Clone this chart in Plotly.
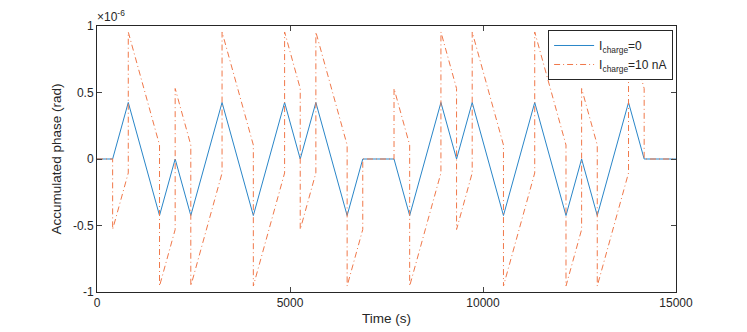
import plotly.graph_objects as go

# Accumulated phase, in units of 1e-6 rad
time_zero = [0, 405, 810, 1620, 2025, 2430, 3240, 4050, 4860, 5265, 5670, 6480, 6885,
             7695, 8100, 8910, 9315, 9720, 10530, 11340, 12150, 12555, 12960, 13770, 14175, 15000]
phase_zero = [0, 0, 0.425, -0.425, 0, -0.425, 0.425, -0.425, 0.425, 0, 0.425, -0.425, 0,
              0, -0.425, 0.425, 0, 0.425, -0.425, 0.425, -0.425, 0, -0.425, 0.425, 0, 0]

time_10nA = [0, 405, 405, 810, 810, 1620, 1620, 2025, 2025, 2430, 2430, 3240, 3240, 4050, 4050,
             4860, 4860, 5265, 5265, 5670, 5670, 6480, 6480, 6885, 6885, 7695, 7695, 8100, 8100,
             8910, 8910, 9315, 9315, 9720, 9720, 10530, 10530, 11340, 11340, 12150, 12150,
             12555, 12555, 12960, 12960, 13770, 13770, 14175, 14175, 15000]
phase_10nA = [0, 0, -0.53, -0.105, 0.955, 0.105, -0.955, -0.53, 0.53, 0.105, -0.955, -0.105, 0.955,
              0.105, -0.955, -0.105, 0.955, 0.53, -0.53, -0.105, 0.955, 0.105, -0.955, -0.53, 0,
              0, 0.53, 0.105, -0.955, -0.105, 0.955, 0.53, -0.53, -0.105, 0.955, 0.105, -0.955,
              -0.105, 0.955, 0.105, -0.955, -0.53, 0.53, 0.105, -0.955, -0.105, 0.955, 0.53, 0, 0]

y_ticks = [-1, -0.5, 0, 0.5, 1]
y_tick_text = ['-1', '-0.5', '0', '0.5', '1']
x_ticks = [0, 5000, 10000, 15000]
x_tick_text = ['0', '5000', '10000', '15000']

font = 'Liberation Sans, Arial, sans-serif'
axcol = '#262626'

fig = go.Figure()
fig.add_trace(go.Scatter(x=time_zero, y=phase_zero, mode='lines',
                         line=dict(color='#2a86c8', width=1),
                         name='I<sub>charge</sub>=0'))
fig.add_trace(go.Scatter(x=time_10nA, y=phase_10nA, mode='lines',
                         line=dict(color='#f0784a', width=1, dash='6px,3px,1px,3px'),
                         name='I<sub>charge</sub>=10 nA'))

# page body has an 8px default margin, so the figure is a bit smaller than the window
fig.update_layout(
    width=739, height=324,
    margin=dict(l=89, r=71, t=18, b=40),
    paper_bgcolor='white', plot_bgcolor='white',
    font=dict(family=font, size=12, color=axcol),
    showlegend=True,
    legend=dict(x=0.995, y=0.985, xanchor='right', yanchor='top',
                bgcolor='white', bordercolor=axcol, borderwidth=1,
                font=dict(size=12), tracegroupgap=0, itemwidth=40),
    xaxis=dict(range=[0, 15000], tickvals=x_ticks, ticktext=x_tick_text,
               ticks='inside', ticklen=5, automargin=False,
               showline=True, linecolor=axcol, linewidth=1, mirror='ticks',
               showgrid=False, zeroline=False,
               title=dict(text='Time (s)', font=dict(size=13.5), standoff=4)),
    yaxis=dict(range=[-1, 1], tickvals=y_ticks, ticktext=y_tick_text,
               ticks='inside', ticklen=5, automargin=False,
               showline=True, linecolor=axcol, linewidth=1, mirror='ticks',
               showgrid=False, zeroline=False,
               title=dict(text='Accumulated phase (rad)', font=dict(size=13.5), standoff=8)),
)

fig.add_annotation(x=0, y=1, xref='paper', yref='paper', xanchor='left', yanchor='bottom',
                   text='×10<sup>-6</sup>', showarrow=False, font=dict(size=12, color=axcol),
                   xshift=-2, yshift=0)

fig.write_html('out.html')
